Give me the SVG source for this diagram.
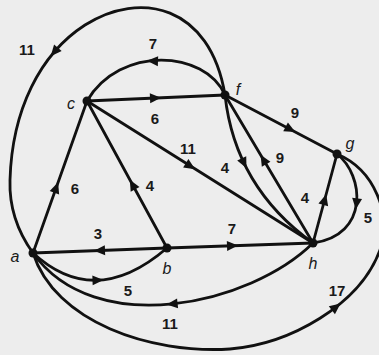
<svg xmlns="http://www.w3.org/2000/svg" xmlns:xlink="http://www.w3.org/1999/xlink" width="379" height="355" viewBox="0 0 379 355">
<style>
.e{fill:none;stroke:#111;stroke-width:2.8;stroke-linecap:round}
.ah{fill:#111}
.n{fill:#111}
.l{font-family:"Liberation Sans",Arial,sans-serif;font-size:15px;font-weight:bold;fill:#1a1a1a;text-anchor:middle;dominant-baseline:central}
.nl{font-family:"Liberation Sans",Arial,sans-serif;font-size:16px;font-style:italic;fill:#1a1a1a;text-anchor:middle;dominant-baseline:central}
</style>
<defs>
<path id="ah" class="ah" d="M6,0 L-5,-5 L-5,5 Z"/>
</defs>
<rect width="379" height="355" fill="#ededed"/>
<g id="connectors">
<path class="e" d="M225,95 C210,5 140,-10 85,25 C40,54 12,110 10,180 C9,210 20,235 33,253"/>
<use xlink:href="#ah" transform="translate(54.6,51.6) rotate(130.7)"/>
<line class="e" x1="87" y1="101" x2="225" y2="95"/>
<use xlink:href="#ah" transform="translate(155,98) rotate(-2.5)"/>
<path class="e" d="M225,95 C205,50 120,45 87,101"/>
<use xlink:href="#ah" transform="translate(153,61) rotate(182)"/>
<line class="e" x1="87" y1="101" x2="313" y2="243"/>
<use xlink:href="#ah" transform="translate(190,166) rotate(32.1)"/>
<line class="e" x1="167" y1="248" x2="87" y2="101"/>
<use xlink:href="#ah" transform="translate(132.7,185) rotate(241.4)"/>
<line class="e" x1="33" y1="253" x2="87" y2="101"/>
<use xlink:href="#ah" transform="translate(56.1,188) rotate(-70.4)"/>
<line class="e" x1="167" y1="248" x2="33" y2="253"/>
<use xlink:href="#ah" transform="translate(100,250.5) rotate(177.9)"/>
<path class="e" d="M33,253 Q95,310 167,248"/>
<use xlink:href="#ah" transform="translate(97.5,280.2) rotate(-2)"/>
<line class="e" x1="167" y1="248" x2="313" y2="243"/>
<use xlink:href="#ah" transform="translate(232,245.8) rotate(-2)"/>
<path class="e" d="M313,243 C250,305 95,340 33,253"/>
<use xlink:href="#ah" transform="translate(172.6,303.9) rotate(174)"/>
<path class="e" d="M33,253 C55,322 150,354 230,349 C290,344 360,305 380,250 C392,215 375,170 337,154"/>
<use xlink:href="#ah" transform="translate(335.8,307.2) rotate(-38)"/>
<line class="e" x1="225" y1="95" x2="337" y2="154"/>
<use xlink:href="#ah" transform="translate(290,129.2) rotate(27.8)"/>
<path class="e" d="M225,95 Q235,187 313,243"/>
<use xlink:href="#ah" transform="translate(243.9,162.9) rotate(64.4)"/>
<line class="e" x1="313" y1="243" x2="225" y2="95"/>
<use xlink:href="#ah" transform="translate(263.6,160) rotate(239.3)"/>
<line class="e" x1="313" y1="243" x2="337" y2="154"/>
<use xlink:href="#ah" transform="translate(324.6,200) rotate(-74.9)"/>
<path class="e" d="M337,154 C364,175 370,235 313,243"/>
<use xlink:href="#ah" transform="translate(356.5,203.4) rotate(96.9)"/>
</g>
<g id="node-a"><circle class="n" cx="33" cy="253" r="4.5"/><text class="nl" x="15" y="256">a</text></g>
<g id="node-b"><circle class="n" cx="167" cy="248" r="4.5"/><text class="nl" x="167" y="268">b</text></g>
<g id="node-c"><circle class="n" cx="87" cy="101" r="4.5"/><text class="nl" x="71" y="103">c</text></g>
<g id="node-f"><circle class="n" cx="225" cy="95" r="4.5"/><text class="nl" x="238" y="89">f</text></g>
<g id="node-g"><circle class="n" cx="337" cy="154" r="4.5"/><text class="nl" x="350" y="143">g</text></g>
<g id="node-h"><circle class="n" cx="313" cy="243" r="4.5"/><text class="nl" x="313" y="263">h</text></g>
<g id="labels">
<text class="l" x="27" y="49">11</text>
<text class="l" x="153" y="43">7</text>
<text class="l" x="155" y="118">6</text>
<text class="l" x="188" y="148">11</text>
<text class="l" x="295" y="112">9</text>
<text class="l" x="225" y="167">4</text>
<text class="l" x="280" y="157">9</text>
<text class="l" x="305" y="197">4</text>
<text class="l" x="368" y="217">5</text>
<text class="l" x="232" y="228">7</text>
<text class="l" x="337" y="290">17</text>
<text class="l" x="170" y="323">11</text>
<text class="l" x="128" y="290">5</text>
<text class="l" x="98" y="233">3</text>
<text class="l" x="75" y="188">6</text>
<text class="l" x="150" y="185">4</text>
</g>
</svg>
